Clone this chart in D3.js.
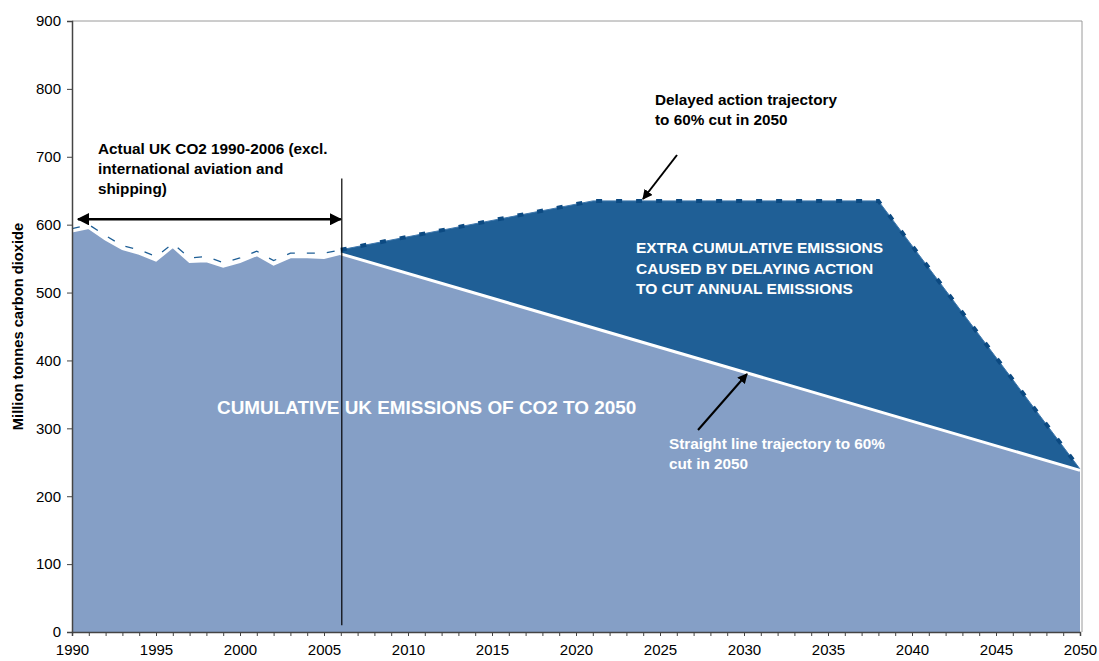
<!DOCTYPE html>
<html><head><meta charset="utf-8">
<script src="https://cdn.jsdelivr.net/npm/d3@7"></script>
<style>
body{margin:0;background:#fff;}
svg{display:block;font-family:"Liberation Sans",Arial,sans-serif;}
</style></head>
<body><svg id="c" width="1099" height="661"></svg>
<script>
// ---- data ----
const actualYears = [1990,1991,1992,1993,1994,1995,1996,1997,1998,1999,2000,2001,2002,2003,2004,2005,2006];
const actualValues = [590,595,578,564,557,547,567,545,546,538,545,555,541,552,552,551,557];
const delayedHistValues = [594,600,584,569,563,553,572,551,553,544,551,561,547,558,558,558,563];
const straightYears = [2006,2050];
const straightValues = [557,238];
const delayedYears = [2006,2021,2038,2050];
const delayedValues = [563,635,635,240];
const yTicks = [0,100,200,300,400,500,600,700,800,900];
const xLabelYears = [1990,1995,2000,2005,2010,2015,2020,2025,2030,2035,2040,2045,2050];

const svg = d3.select("#c");
const x = d3.scaleLinear().domain([1990,2050]).range([72,1080]);
const y = d3.scaleLinear().domain([0,900]).range([632,21]);

const LIGHT = "#859fc6", DARK = "#1f5f96", DASH = "#0c4a82";

// plot border (top/right)
svg.append("path").attr("d",`M${x(1990)},${y(900)}H${x(2050)+2}V${y(0)}`)
  .attr("fill","none").attr("stroke","#9a9a9a").attr("stroke-width",1);

// dark area (delayed) 2006-2050
const darkPts = delayedYears.map((d,i)=>[d,delayedValues[i]]);
svg.append("path").datum(darkPts)
  .attr("d", d3.area().x(d=>x(d[0])).y0(y(0)).y1(d=>y(d[1])))
  .attr("fill",DARK);

// light area (actual + straight)
const lightPts = actualYears.map((d,i)=>[d,actualValues[i]])
  .concat(straightYears.slice(1).map((d,i)=>[d,straightValues[i+1]]));
svg.append("path").datum(lightPts)
  .attr("d", d3.area().x(d=>x(d[0])).y0(y(0)).y1(d=>y(d[1])))
  .attr("fill",LIGHT);

// white top edge of actual
svg.append("path").datum(actualYears.map((d,i)=>[d,actualValues[i]]))
  .attr("d", d3.line().x(d=>x(d[0])).y(d=>y(d[1])))
  .attr("fill","none").attr("stroke","#fff").attr("stroke-width",2);

// historical part of delayed line: thin dashed
const histDash = actualYears.map((d,i)=>[d,delayedHistValues[i]]);
svg.append("path").datum(histDash)
  .attr("d", d3.line().x(d=>x(d[0])).y(d=>y(d[1])))
  .attr("fill","none").attr("stroke","#1f5f96").attr("stroke-width",1.3)
  .attr("stroke-dasharray","8,12");

// future part of delayed line: thick dashes
const dashPts = delayedYears.map((d,i)=>[d,delayedValues[i]]);
svg.append("path").datum(dashPts)
  .attr("d", d3.line().x(d=>x(d[0])).y(d=>y(d[1])))
  .attr("fill","none").attr("stroke","#3f78ad").attr("stroke-width",1);
svg.append("path").datum(dashPts)
  .attr("d", d3.line().x(d=>x(d[0])).y(d=>y(d[1])))
  .attr("fill","none").attr("stroke",DASH).attr("stroke-width",4)
  .attr("stroke-dasharray","6,14");

// straight line white
svg.append("path").datum(straightYears.map((d,i)=>[d,straightValues[i]]))
  .attr("d", d3.line().x(d=>x(d[0])).y(d=>y(d[1])))
  .attr("fill","none").attr("stroke","#fff").attr("stroke-width",3);

// axes
const yAxis = svg.append("g").attr("transform",`translate(${x(1990)},0)`)
  .call(d3.axisLeft(y).tickValues(yTicks).tickSize(5).tickPadding(6).tickFormat(d3.format("d")));
const xAxis = svg.append("g").attr("transform",`translate(0,${y(0)})`)
  .call(d3.axisBottom(x).tickValues(d3.range(1990,2051)).tickSize(4).tickFormat(d=>xLabelYears.includes(d)?String(d):""));
[yAxis,xAxis].forEach(g=>{
  g.selectAll("path").attr("stroke","#444").attr("stroke-width",1.5);
  g.selectAll("line").attr("stroke","#444");
  g.selectAll("text").attr("fill","#000").style("font-size","15px").style("font-family","'Liberation Sans',Arial,sans-serif");
});
xAxis.selectAll("text").attr("dy","1.05em");

// y label
svg.append("text").attr("transform",`translate(23,${(y(0)+y(900))/2}) rotate(-90)`)
  .attr("text-anchor","middle").attr("font-weight","bold").attr("font-size",14.7).text("Million tonnes carbon dioxide");

// marker
const defs = svg.append("defs");
defs.append("marker").attr("id","ah").attr("viewBox","0 0 10 10").attr("refX",9).attr("refY",5)
  .attr("markerWidth",5).attr("markerHeight",5).attr("orient","auto-start-reverse")
  .append("path").attr("d","M0,0L10,5L0,10z").attr("fill","#000");

function lines(arr, x0, y0, lh, opts){
  const t = svg.append("text").attr("x",x0).attr("y",y0).attr("font-weight","bold")
    .attr("font-size",opts.size).attr("fill",opts.fill);
  arr.forEach((s,i)=>t.append("tspan").attr("x",x0).attr("y",y0+i*lh).text(s));
}
lines(["Actual UK CO2 1990-2006 (excl.","international aviation and","shipping)"],98,154,20,{size:15.3,fill:"#000"});
lines(["Delayed action trajectory","to 60% cut in 2050"],655,105,20,{size:15.3,fill:"#000"});
lines(["EXTRA CUMULATIVE EMISSIONS","CAUSED BY DELAYING ACTION","TO CUT ANNUAL EMISSIONS"],636,253,20.5,{size:15.5,fill:"#fff"});
lines(["CUMULATIVE UK EMISSIONS OF CO2 TO 2050"],217,414,20,{size:18.9,fill:"#fff"});
lines(["Straight line trajectory to 60%","cut in 2050"],669,449,20,{size:15.3,fill:"#fff"});

// vertical line at 2006 (drawn over text)
svg.append("line").attr("x1",x(2006)+1).attr("x2",x(2006)+1).attr("y1",y(668)).attr("y2",y(10))
  .attr("stroke","#000").attr("stroke-width",1.2);
// double arrow
svg.append("line").attr("x1",x(1990)+6).attr("x2",x(2006)).attr("y1",y(608)).attr("y2",y(608))
  .attr("stroke","#000").attr("stroke-width",2.5)
  .attr("marker-start","url(#ah)").attr("marker-end","url(#ah)");

// arrows
svg.append("line").attr("x1",677).attr("y1",155).attr("x2",643).attr("y2",199)
  .attr("stroke","#000").attr("stroke-width",2).attr("marker-end","url(#ah)");
svg.append("line").attr("x1",698).attr("y1",430).attr("x2",747).attr("y2",374)
  .attr("stroke","#000").attr("stroke-width",2).attr("marker-end","url(#ah)");
</script></body></html>
